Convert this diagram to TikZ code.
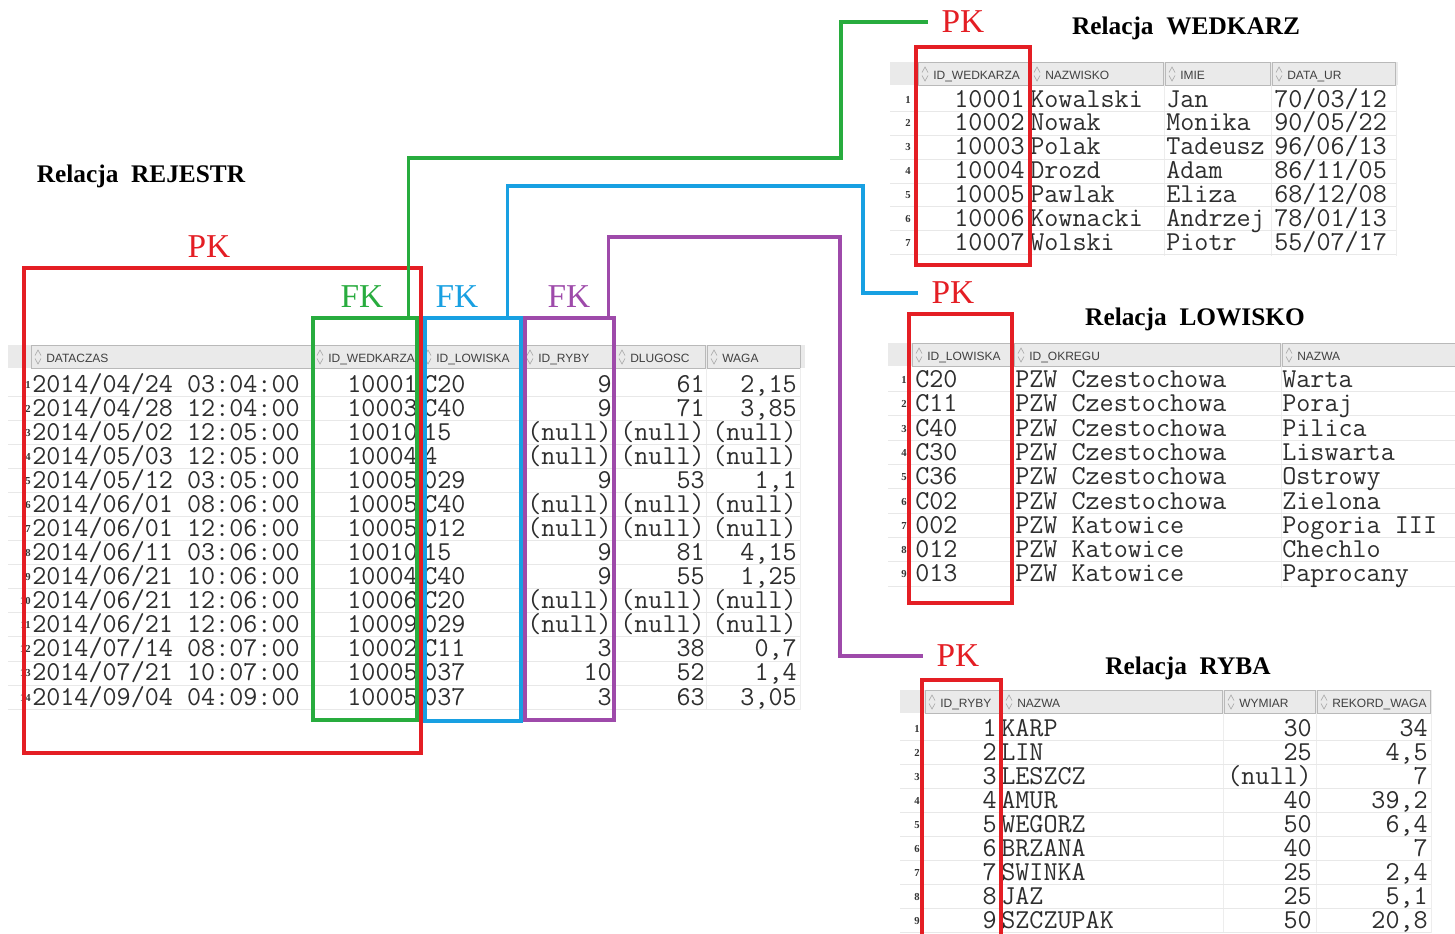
\documentclass[tikz,border=0pt]{standalone}
\usepackage{fontspec}
\setmainfont{Liberation Serif}
\newfontfamily\headfont{Liberation Sans}
\usetikzlibrary{fit}

\definecolor{pkred}{RGB}{228,30,36}
\definecolor{fkgreen}{RGB}{40,172,62}
\definecolor{fkblue}{RGB}{24,160,226}
\definecolor{fkpurple}{RGB}{158,74,170}
\definecolor{bandgray}{RGB}{234,234,234}

\tikzset{
  cell/.style={font=\ttfamily\fontsize{20.5}{20.5}\selectfont, inner sep=0pt, text=black!82},
  colhead/.style={font=\headfont\fontsize{9}{9}\selectfont, inner sep=0pt, anchor=base west, text=black!75},
  rownum/.style={font=\bfseries\fontsize{8}{8}\selectfont, inner sep=0pt, anchor=base east, text=black!80},
  reltitle/.style={font=\bfseries\fontsize{19}{19}\selectfont},
  keytag/.style={font=\fontsize{25}{25}\selectfont, inner sep=1pt},
  keybox/.style={draw=#1, line width=2.6pt, inner sep=0pt},
  link/.style={line width=2.6pt, shorten >=9pt},
  hcell/.style={draw=gray!55, fill=bandgray, line width=0.6pt},
  rowline/.style={draw=gray!18, line width=0.5pt},
  colline/.style={draw=gray!14, line width=0.5pt},
  sorticon/.pic={\draw[gray!65, line width=0.5pt] (-3,-1.5) -- (0,-7) -- (3,-1.5) (-3,1.5) -- (0,7) -- (3,1.5);}
}

\begin{document}
\begin{tikzpicture}[x=0.75pt,y=-0.75pt]
\useasboundingbox (0,0) rectangle (1455,933);
\fill[white] (0,0) rectangle (1455,933);

% Relacja REJESTR
\node[reltitle] (rejTitle) at (141,176) {Relacja\ \ REJESTR};
\fill[bandgray] (8,345) rectangle (805,368);
\foreach \a/\b/\t [count=\k] in {31/311/DATACZAS,313/419/ID\_WEDKARZA,421/521/ID\_LOWISKA,%
    523/613/ID\_RYBY,615/705/DLUGOSC,707/800/WAGA} {
  \draw[hcell] (\a,345) rectangle (\b,368);
  \pic at (\a+7,357) {sorticon};
  \node[colhead] (rejH\k) at (\a+15,362) {\t};
}
\foreach \x in {311,420,522,614,706,800}
  \draw[colline] (\x,368) -- (\x,710);
\foreach \dt/\w/\l/\r/\g/\m [count=\i] in {%
    {2014/04/24 03:04:00}/10001/C20/9/61/{2,15},%
    {2014/04/28 12:04:00}/10003/C40/9/71/{3,85},%
    {2014/05/02 12:05:00}/10010/15/(null)/(null)/(null),%
    {2014/05/03 12:05:00}/10004/4/(null)/(null)/(null),%
    {2014/05/12 03:05:00}/10005/029/9/53/{1,1},%
    {2014/06/01 08:06:00}/10005/C40/(null)/(null)/(null),%
    {2014/06/01 12:06:00}/10005/012/(null)/(null)/(null),%
    {2014/06/11 03:06:00}/10010/15/9/81/{4,15},%
    {2014/06/21 10:06:00}/10004/C40/9/55/{1,25},%
    {2014/06/21 12:06:00}/10006/C20/(null)/(null)/(null),%
    {2014/06/21 12:06:00}/10009/029/(null)/(null)/(null),%
    {2014/07/14 08:07:00}/10002/C11/3/38/{0,7},%
    {2014/07/21 10:07:00}/10005/037/10/52/{1,4},%
    {2014/09/04 04:09:00}/10005/037/3/63/{3,05}} {
  \pgfmathsetmacro\yy{392+(\i-1)*24.08}
  \draw[rowline] (8,\yy+4) -- (800,\yy+4);
  \node[rownum] (rejN\i) at (31,\yy-4) {\i};
  \node[cell, anchor=base west] (rejD\i) at (32,\yy) {\dt};
  \node[cell, anchor=base east] (rejW\i) at (418,\yy) {\w};
  \node[cell, anchor=base west] (rejL\i) at (423,\yy) {\l};
  \node[cell, anchor=base east] (rejR\i) at (612,\yy) {\r};
  \node[cell, anchor=base east] (rejG\i) at (705,\yy) {\g};
  \node[cell, anchor=base east] (rejM\i) at (797,\yy) {\m};
}

% Relacja WEDKARZ
\node[reltitle] (wedTitle) at (1186,28) {Relacja\ \ WEDKARZ};
\fill[bandgray] (890,62) rectangle (1398,85);
\foreach \a/\b/\t [count=\k] in {918/1028/ID\_WEDKARZA,1030/1163/NAZWISKO,1165/1270/IMIE,1272/1395/DATA\_UR} {
  \draw[hcell] (\a,62) rectangle (\b,85);
  \pic at (\a+7,74) {sorticon};
  \node[colhead] (wedH\k) at (\a+15,79) {\t};
}
\foreach \x in {1029,1164,1271,1396}
  \draw[colline] (\x,85) -- (\x,256);
\foreach \w/\n/\f/\b [count=\i] in {%
    10001/Kowalski/Jan/{70/03/12},%
    10002/Nowak/Monika/{90/05/22},%
    10003/Polak/Tadeusz/{96/06/13},%
    10004/Drozd/Adam/{86/11/05},%
    10005/Pawlak/Eliza/{68/12/08},%
    10006/Kownacki/Andrzej/{78/01/13},%
    10007/Wolski/Piotr/{55/07/17}} {
  \pgfmathsetmacro\yy{107+(\i-1)*23.95}
  \draw[rowline] (890,\yy+4) -- (1396,\yy+4);
  \node[rownum] (wedN\i) at (911,\yy-4) {\i};
  \node[cell, anchor=base east] (wedW\i) at (1025,\yy) {\w};
  \node[cell, anchor=base west] (wedS\i) at (1030,\yy) {\n};
  \node[cell, anchor=base west] (wedF\i) at (1166,\yy) {\f};
  \node[cell, anchor=base west] (wedB\i) at (1274,\yy) {\b};
}

% Relacja LOWISKO
\node[reltitle] (lowTitle) at (1195,319) {Relacja\ \ LOWISKO};
\fill[bandgray] (888,343) rectangle (1455,366);
\foreach \a/\b/\t [count=\k] in {912/1012/ID\_LOWISKA,1014/1280/ID\_OKREGU,1282/1460/NAZWA} {
  \draw[hcell] (\a,343) rectangle (\b,366);
  \pic at (\a+7,355) {sorticon};
  \node[colhead] (lowH\k) at (\a+15,360) {\t};
}
\foreach \x in {1013,1281}
  \draw[colline] (\x,366) -- (\x,588);
\foreach \l/\o/\n [count=\i] in {%
    C20/PZW Czestochowa/Warta,%
    C11/PZW Czestochowa/Poraj,%
    C40/PZW Czestochowa/Pilica,%
    C30/PZW Czestochowa/Liswarta,%
    C36/PZW Czestochowa/Ostrowy,%
    C02/PZW Czestochowa/Zielona,%
    002/PZW Katowice/Pogoria III,%
    012/PZW Katowice/Chechlo,%
    013/PZW Katowice/Paprocany} {
  \pgfmathsetmacro\yy{387.5+(\i-1)*24.3}
  \draw[rowline] (888,\yy+4) -- (1455,\yy+4);
  \node[rownum] (lowN\i) at (907,\yy-4) {\i};
  \node[cell, anchor=base west] (lowL\i) at (915,\yy) {\l};
  \node[cell, anchor=base west] (lowO\i) at (1015,\yy) {\o};
  \node[cell, anchor=base west] (lowA\i) at (1282,\yy) {\n};
}

% Relacja RYBA
\node[reltitle] (rybTitle) at (1188,668) {Relacja\ \ RYBA};
\fill[bandgray] (900,690) rectangle (1432,713);
\foreach \a/\b/\t [count=\k] in {925/1000/ID\_RYBY,1002/1222/NAZWA,1224/1315/WYMIAR,1317/1430/REKORD\_WAGA} {
  \draw[hcell] (\a,690) rectangle (\b,713);
  \pic at (\a+7,702) {sorticon};
  \node[colhead] (rybH\k) at (\a+15,707) {\t};
}
\foreach \x in {1001,1223,1316,1431}
  \draw[colline] (\x,713) -- (\x,933);
\foreach \r/\n/\d/\m [count=\i] in {%
    1/KARP/30/34,%
    2/LIN/25/{4,5},%
    3/LESZCZ/(null)/7,%
    4/AMUR/40/{39,2},%
    5/WEGORZ/50/{6,4},%
    6/BRZANA/40/7,%
    7/SWINKA/25/{2,4},%
    8/JAZ/25/{5,1},%
    9/SZCZUPAK/50/{20,8}} {
  \pgfmathsetmacro\yy{736+(\i-1)*24.1}
  \draw[rowline] (900,\yy+4) -- (1431,\yy+4);
  \node[rownum] (rybN\i) at (920,\yy-4) {\i};
  \node[cell, anchor=base east] (rybR\i) at (997,\yy) {\r};
  \node[cell, anchor=base west] (rybA\i) at (1001,\yy) {\n};
  \node[cell, anchor=base east] (rybD\i) at (1312,\yy) {\d};
  \node[cell, anchor=base east] (rybM\i) at (1428,\yy) {\m};
}

% klucze
\node[keybox=pkred, fit={(24,268) (421,753)}] (rejPK) {};
\node[keybox=fkgreen, fit={(313,318) (417,720)}] (rejFKw) {};
\node[keybox=fkblue, fit={(425,318) (521,721)}] (rejFKl) {};
\node[keybox=fkpurple, fit={(525,318) (614,720)}] (rejFKr) {};
\node[keybox=pkred, fit={(916,47) (1030,265)}] (wedPK) {};
\node[keybox=pkred, fit={(909,314) (1012,603)}] (lowPK) {};
\node[keybox=pkred, fit={(922,680) (1001,945)}] (rybPK) {};

\node[keytag, pkred] (rejPKtag) at (209,247) {PK};
\node[keytag, fkgreen] (fkWtag) at (362,297) {FK};
\node[keytag, fkblue] (fkLtag) at (457,297) {FK};
\node[keytag, fkpurple] (fkRtag) at (569,297) {FK};
\node[keytag, pkred] (wedPKtag) at (963,22) {PK};
\node[keytag, pkred] (lowPKtag) at (953,293) {PK};
\node[keytag, pkred] (rybPKtag) at (958,656) {PK};

% powiazania
\draw[link, fkgreen] (rejFKw.north east) ++(-10,0) |- (841,158) |- (wedPKtag.west);
\draw[link, fkblue] (rejFKl.north east) ++(-15,0) |- (863,186) |- (lowPKtag.west);
\draw[link, fkpurple] (rejFKr.north east) ++(-7,0) |- (840,237) |- (rybPKtag.west);
\end{tikzpicture}
\end{document}
